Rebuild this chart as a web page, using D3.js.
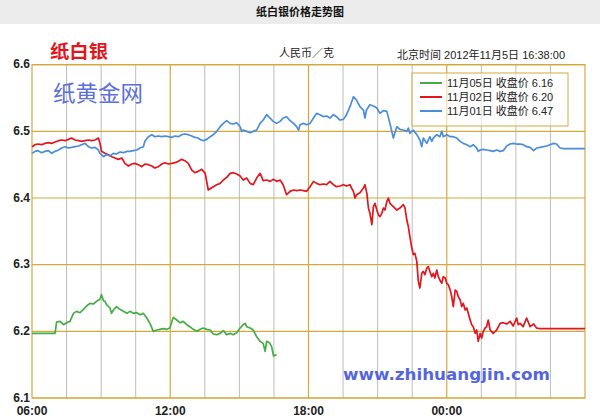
<!DOCTYPE html>
<html><head><meta charset="utf-8">
<script src="https://cdn.jsdelivr.net/npm/d3@7"></script>
<style>body{margin:0;background:#fff}svg{display:block}</style>
</head><body><svg id="c" width="600" height="420"></svg>
<script>
// ---- data (minutes after 06:00, price in CNY/g) ----
const yTicks = [6.1, 6.2, 6.3, 6.4, 6.5, 6.6];
const xTickMinutes = [0, 360, 720, 1080];
const xTickLabels = ["06:00", "12:00", "18:00", "00:00"];
const legendLabels = ["11月05日 收盘价 6.16", "11月02日 收盘价 6.20", "11月01日 收盘价 6.47"];

const nov05Minutes = [0,60,64,73,82,90,99,108,116,125,134,142,151,160,168,177,181,186,190,194,203,207,212,220,229,238,247,255,264,273,281,290,299,307,316,325,333,342,351,359,368,377,385,394,403,411,420,429,438,446,455,464,472,481,490,498,507,516,524,533,542,550,555,559,568,576,585,594,602,607,611,618,624,629,637];
const nov05Prices = [6.197,6.197,6.214,6.215,6.210,6.213,6.215,6.227,6.230,6.228,6.233,6.238,6.242,6.241,6.245,6.248,6.255,6.246,6.245,6.240,6.235,6.227,6.232,6.237,6.233,6.230,6.227,6.230,6.227,6.228,6.225,6.227,6.220,6.212,6.200,6.202,6.203,6.204,6.203,6.205,6.221,6.217,6.213,6.215,6.210,6.207,6.203,6.200,6.203,6.205,6.203,6.202,6.196,6.195,6.197,6.201,6.195,6.197,6.195,6.198,6.205,6.210,6.212,6.207,6.205,6.202,6.192,6.185,6.182,6.170,6.185,6.183,6.177,6.163,6.165];

const nov02Minutes = [0,8,16,25,34,43,51,60,69,77,86,95,103,112,121,129,138,147,155,164,173,177,181,190,199,208,216,225,234,242,251,260,268,277,286,294,303,312,320,329,338,346,355,364,372,381,390,398,407,416,424,433,442,451,459,
 472,481,490,498,507,516,524,533,542,550,559,568,576,585,594,602,611,620,628,637,646,654,663,672,681,689,
 698,707,715,724,733,741,750,759,767,776,785,793,802,811,819,828,832,837,841,845,854,863,867,872,876,880,885,889,893,898,902,906,911,915,919,924,928,932,941,950,958,967,971,976,980,984,989,993,997,1002,1006,1010,1015,1019,1023,1028,1032,1036,1041,1045,1049,1054,1058,1062,1067,1071,1076,1080,1084,1089,1093,1097,1102,1106,1110,1115,1119,1123,1128,1132,1136,1141,1145,1149,1154,1158,1162,1167,1171,1175,1180,1184,1188,1193,1201,1210,1219,
 1227,1236,1245,1253,1262,1266,1271,1279,1288,1297,1306,1314,1323,1440];
const nov02Prices = [6.477,6.480,6.481,6.480,6.482,6.483,6.482,6.484,6.486,6.487,6.486,6.488,6.490,6.487,6.486,6.485,6.486,6.487,6.486,6.487,6.490,6.482,6.470,6.467,6.465,6.462,6.460,6.458,6.460,6.452,6.448,6.451,6.452,6.450,6.447,6.451,6.450,6.448,6.445,6.447,6.451,6.453,6.451,6.452,6.453,6.455,6.458,6.456,6.452,6.442,6.438,6.440,6.443,6.437,6.412,
 6.417,6.420,6.422,6.427,6.431,6.437,6.438,6.436,6.433,6.427,6.430,6.422,6.420,6.430,6.437,6.426,6.427,6.425,6.428,6.425,6.427,6.420,6.405,6.410,6.412,6.411,
 6.412,6.411,6.410,6.417,6.425,6.422,6.420,6.421,6.420,6.425,6.420,6.417,6.418,6.420,6.418,6.420,6.415,6.410,6.400,6.405,6.408,6.415,6.420,6.407,6.385,6.377,6.360,6.387,6.392,6.382,6.375,6.372,6.377,6.385,6.382,6.395,6.400,6.392,6.387,6.382,6.385,6.390,6.386,6.367,6.357,6.342,6.325,6.315,6.317,6.305,6.275,6.265,6.287,6.290,6.285,6.295,6.297,6.290,6.282,6.287,6.280,6.292,6.282,6.277,6.272,6.282,6.280,6.272,6.270,6.262,6.252,6.237,6.262,6.260,6.252,6.247,6.237,6.242,6.232,6.235,6.227,6.217,6.210,6.207,6.197,6.202,6.185,6.197,6.190,6.200,6.205,6.207,6.217,6.202,6.197,6.202,6.212,
 6.213,6.211,6.215,6.208,6.220,6.210,6.212,6.207,6.220,6.207,6.211,6.205,6.204,6.204];

const nov01Minutes = [0,8,16,25,34,43,51,60,69,77,86,95,103,112,121,129,138,147,155,164,173,177,181,186,194,203,212,220,229,238,247,255,264,273,281,290,294,303,312,320,329,338,346,355,364,372,381,390,398,407,416,424,433,
 437,446,455,464,472,481,490,498,507,516,524,533,542,546,550,559,568,576,585,594,602,611,620,628,637,646,654,663,672,681,689,694,698,707,715,724,733,741,750,759,767,776,785,793,802,811,819,828,837,845,854,863,867,871,880,889,898,906,915,924,932,941,950,958,
 967,976,980,984,989,993,1002,1010,1015,1019,1028,1036,1041,1045,1054,1062,1067,1071,1080,1089,1097,1106,1115,1123,1132,1141,1149,1158,1162,1167,1175,1184,1193,1201,1210,1219,1227,1236,1245,1253,1262,1271,1279,1288,1297,1306,1314,1323,1332,1340,1349,1358,1366,1375,1384,1440];
const nov01Prices = [6.467,6.470,6.471,6.468,6.470,6.471,6.467,6.470,6.472,6.475,6.477,6.475,6.476,6.477,6.478,6.480,6.482,6.477,6.475,6.476,6.472,6.467,6.465,6.462,6.465,6.463,6.467,6.466,6.469,6.468,6.470,6.470,6.471,6.472,6.475,6.477,6.485,6.492,6.495,6.492,6.493,6.492,6.493,6.492,6.491,6.493,6.492,6.495,6.496,6.495,6.493,6.491,6.490,
 6.488,6.486,6.488,6.492,6.495,6.500,6.507,6.512,6.516,6.512,6.511,6.513,6.507,6.500,6.502,6.500,6.498,6.500,6.502,6.512,6.517,6.525,6.520,6.515,6.512,6.515,6.520,6.522,6.516,6.512,6.507,6.502,6.510,6.512,6.510,6.512,6.520,6.527,6.525,6.522,6.523,6.520,6.525,6.522,6.517,6.518,6.525,6.537,6.552,6.547,6.537,6.532,6.520,6.532,6.540,6.538,6.535,6.527,6.531,6.530,6.512,6.490,6.507,6.503,
 6.502,6.500,6.505,6.497,6.500,6.502,6.495,6.487,6.477,6.490,6.482,6.492,6.485,6.490,6.495,6.492,6.500,6.492,6.495,6.492,6.492,6.490,6.485,6.482,6.480,6.477,6.480,6.475,6.470,6.472,6.473,6.472,6.471,6.470,6.472,6.470,6.471,6.478,6.481,6.482,6.481,6.481,6.480,6.477,6.476,6.471,6.475,6.476,6.477,6.478,6.480,6.482,6.481,6.475,6.474,6.474];

const seriesColors = ["#45ad45", "#e3161e", "#4a8edb"];

// ---- drawing ----
const svg = d3.select("#c");
const x = d3.scaleLinear().domain([0, 1440]).range([32, 585]);
const y = d3.scaleLinear().domain([6.1, 6.6]).range([398, 64.7]);
const gold = "#d2aa3c", gray = "#bdbdbd";
const latin = "'Liberation Sans', Arial, 'Noto Sans CJK SC', sans-serif";

// title bar
svg.append("rect").attr("x",0).attr("y",0).attr("width",600).attr("height",24).attr("fill","#ececec");
svg.append("text").attr("x",300).attr("y",16).attr("text-anchor","middle")
  .attr("font-family","'Noto Sans CJK SC', sans-serif").attr("font-size",11).attr("font-weight","bold")
  .attr("fill","#111").text("纸白银价格走势图");

// vertical gridlines
const vMins = d3.range(90, 1440, 90);
svg.append("g").selectAll("line").data(vMins.filter(m => m % 360 !== 0)).join("line")
  .attr("x1", d => x(d)).attr("x2", d => x(d)).attr("y1", y(6.6)).attr("y2", y(6.1))
  .attr("stroke", gray).attr("stroke-width", 1);
svg.append("g").selectAll("line").data(vMins.filter(m => m % 360 === 0)).join("line")
  .attr("x1", d => x(d)).attr("x2", d => x(d)).attr("y1", y(6.6)).attr("y2", y(6.1))
  .attr("stroke", gold).attr("stroke-width", 1.2);
svg.append("g").selectAll("line").data(yTicks).join("line")
  .attr("x1", x(0)).attr("x2", x(1440)).attr("y1", d => y(d)).attr("y2", d => y(d))
  .attr("stroke", gold).attr("stroke-width", 1.2);
svg.append("rect").attr("x", x(0)).attr("y", y(6.6)).attr("width", x(1440)-x(0)).attr("height", y(6.1)-y(6.6))
  .attr("fill","none").attr("stroke", gold).attr("stroke-width", 1.2);

// series
const line = d3.line().x(d => x(d[0])).y(d => y(d[1]));
const series = [
  d3.zip(nov05Minutes, nov05Prices),
  d3.zip(nov02Minutes, nov02Prices),
  d3.zip(nov01Minutes, nov01Prices)
];
series.forEach((s, i) => {
  svg.append("path").datum(s).attr("d", line).attr("fill","none")
    .attr("stroke", seriesColors[i]).attr("stroke-width", 1.7).attr("stroke-linejoin","round");
});

// axis labels
svg.append("g").selectAll("text").data(yTicks).join("text")
  .attr("x", 30).attr("y", d => y(d) + 3.5).attr("text-anchor","end")
  .attr("font-family", latin).attr("font-size", 12).attr("font-weight","bold").attr("fill","#222")
  .text(d => d.toFixed(1));
svg.append("g").selectAll("text").data(xTickMinutes).join("text")
  .attr("x", d => x(d)).attr("y", 415).attr("text-anchor","middle")
  .attr("font-family", latin).attr("font-size", 12).attr("font-weight","bold").attr("fill","#222")
  .text((d, i) => xTickLabels[i]);

// legend
const lg = svg.append("g");
lg.append("rect").attr("x",412).attr("y",73).attr("width",156).attr("height",53)
  .attr("fill","#fff").attr("fill-opacity",0.6).attr("stroke", gold).attr("stroke-width",1);
legendLabels.forEach((t, i) => {
  const yy = 83 + i * 14;
  lg.append("line").attr("x1",420).attr("x2",442).attr("y1",yy).attr("y2",yy)
    .attr("stroke", seriesColors[i]).attr("stroke-width",2);
  lg.append("text").attr("x",447).attr("y",yy+4).attr("font-family", latin).attr("font-size",11)
    .attr("fill","#222").text(t);
});

// header texts
svg.append("text").attr("x",50).attr("y",58).attr("font-family","'Noto Sans CJK SC', sans-serif")
  .attr("font-size",18).attr("font-weight","bold").attr("fill","#e3161e")
  .attr("textLength",58).attr("lengthAdjust","spacingAndGlyphs").text("纸白银");
svg.append("text").attr("x",279).attr("y",57).attr("font-family", latin).attr("font-size",11)
  .attr("fill","#222").text("人民币／克");
svg.append("text").attr("x",397).attr("y",59).attr("font-family", latin).attr("font-size",11)
  .attr("fill","#222").attr("textLength",168).attr("lengthAdjust","spacingAndGlyphs")
  .text("北京时间 2012年11月5日 16:38:00");

// watermarks
svg.append("text").attr("x",53).attr("y",101).attr("font-family","'Noto Sans CJK SC', sans-serif")
  .attr("font-size",22).attr("fill","#5e6fd6")
  .attr("textLength",90).attr("lengthAdjust","spacingAndGlyphs").text("纸黄金网");
svg.append("text").attr("x",343).attr("y",380).attr("font-family","'DejaVu Sans', Verdana, sans-serif")
  .attr("font-size",15).attr("font-weight","bold").attr("fill","#5566dd")
  .attr("textLength",207).attr("lengthAdjust","spacingAndGlyphs").text("www.zhihuangjin.com");
</script></body></html>
